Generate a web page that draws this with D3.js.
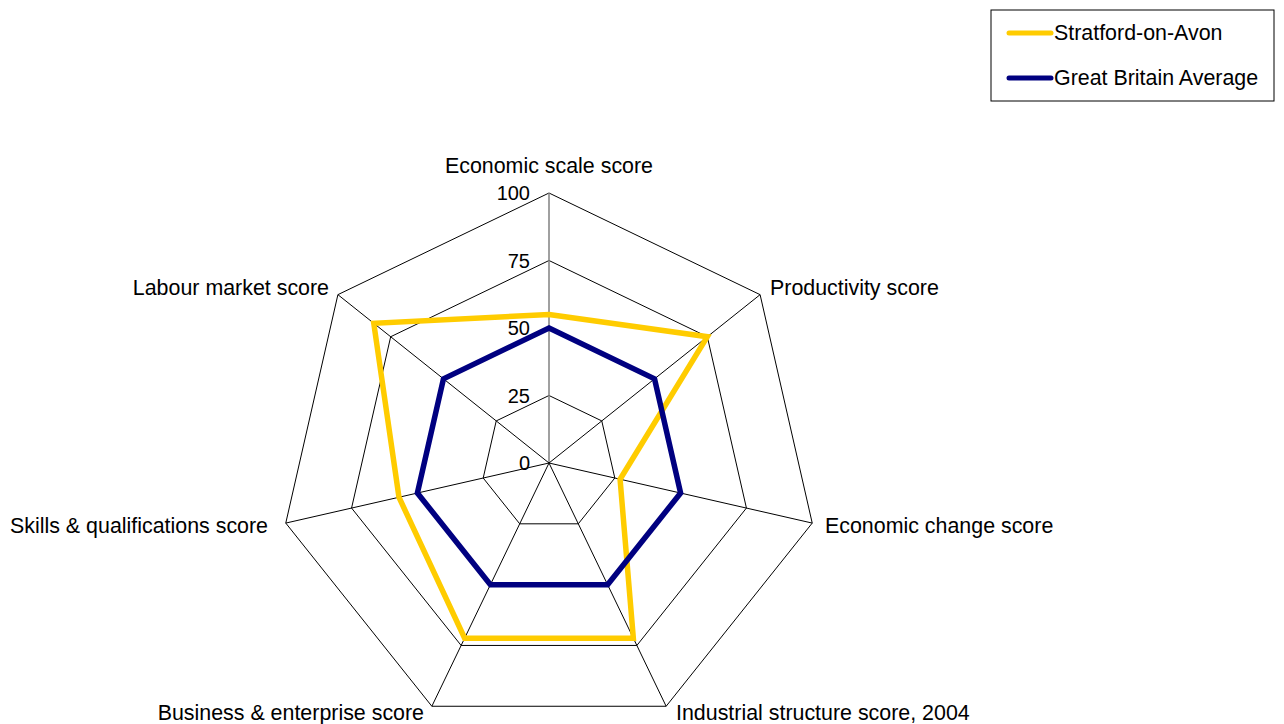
<!DOCTYPE html>
<html>
<head>
<meta charset="utf-8">
<script src="https://cdn.jsdelivr.net/npm/d3@7"></script>
<style>
  body { margin: 0; background: #fff; }
  text { font-family: "Liberation Sans", Arial, sans-serif; fill: #000; }
</style>
</head>
<body>
<script>
const width = 1284;
const height = 724;
const center = { x: 549, y: 463 };
const radius = 270;

const axes = [
  'Economic scale score',
  'Productivity score',
  'Economic change score',
  'Industrial structure score, 2004',
  'Business & enterprise score',
  'Skills & qualifications score',
  'Labour market score'
];
const stratford = [55, 75, 27, 72, 72, 57, 83];
const gbAverage = [50, 50, 50, 50, 50, 50, 50];
const ticks = [0, 25, 50, 75, 100];
const seriesNames = ['Stratford-on-Avon', 'Great Britain Average'];
const seriesColors = ['#FFCC00', '#000080'];

const svg = d3.select('body').append('svg')
  .attr('width', width)
  .attr('height', height);

const g = svg.append('g')
  .attr('transform', `translate(${center.x}, ${center.y})`);

const rScale = d3.scaleLinear().domain([0, 100]).range([0, radius]);
const angle = i => (i * 2 * Math.PI) / axes.length;
const point = (i, v) => [rScale(v) * Math.sin(angle(i)), -rScale(v) * Math.cos(angle(i))];

// grid rings
ticks.forEach((t) => {
  g.append('polygon')
    .attr('points', axes.map((a, i) => point(i, t).join(',')).join(' '))
    .attr('fill', 'none')
    .attr('stroke', '#000')
    .attr('stroke-width', 1);
});

// spokes
axes.forEach((a, i) => {
  const [x, y] = point(i, 100);
  g.append('line')
    .attr('x1', 0).attr('y1', 0)
    .attr('x2', x).attr('y2', y)
    .attr('stroke', i === 0 ? '#808080' : '#000')
    .attr('stroke-width', i === 0 ? 1.5 : 1);
});

// tick labels
ticks.forEach((t) => {
  g.append('text')
    .attr('x', -19)
    .attr('y', -rScale(t))
    .attr('dy', '0.35em')
    .attr('text-anchor', 'end')
    .style('font-size', '20px')
    .text(t);
});

// axis labels
const labelPos = [
  { dx: 0, dy: -290, anchor: 'middle' },
  { dx: 221, dy: -168, anchor: 'start' },
  { dx: 276, dy: 70, anchor: 'start' },
  { dx: 127, dy: 257, anchor: 'start' },
  { dx: -125, dy: 257, anchor: 'end' },
  { dx: -281, dy: 70, anchor: 'end' },
  { dx: -220, dy: -168, anchor: 'end' }
];
axes.forEach((a, i) => {
  g.append('text')
    .attr('x', labelPos[i].dx)
    .attr('y', labelPos[i].dy)
    .attr('text-anchor', labelPos[i].anchor)
    .style('font-size', '21.4px')
    .text(a);
});

// series
const line = d3.lineRadial()
  .angle((d, i) => angle(i))
  .radius(d => rScale(d))
  .curve(d3.curveLinearClosed);

[stratford, gbAverage].forEach((s, k) => {
  g.append('path')
    .datum(s)
    .attr('d', line)
    .attr('fill', 'none')
    .attr('stroke', seriesColors[k])
    .attr('stroke-width', 5.5)
    .attr('stroke-linejoin', 'miter');
});

// legend
const legend = svg.append('g').attr('transform', 'translate(991, 10)');
legend.append('rect')
  .attr('width', 283).attr('height', 91)
  .attr('fill', '#fff').attr('stroke', '#000').attr('stroke-width', 1);
seriesNames.forEach((n, k) => {
  const y = 23 + k * 45;
  legend.append('line')
    .attr('x1', 18).attr('x2', 60)
    .attr('y1', y).attr('y2', y)
    .attr('stroke', seriesColors[k])
    .attr('stroke-width', 5)
    .attr('stroke-linecap', 'round');
  legend.append('text')
    .attr('x', 63).attr('y', y)
    .attr('dy', '0.35em')
    .style('font-size', '21.4px')
    .text(n);
});
</script>
</body>
</html>
